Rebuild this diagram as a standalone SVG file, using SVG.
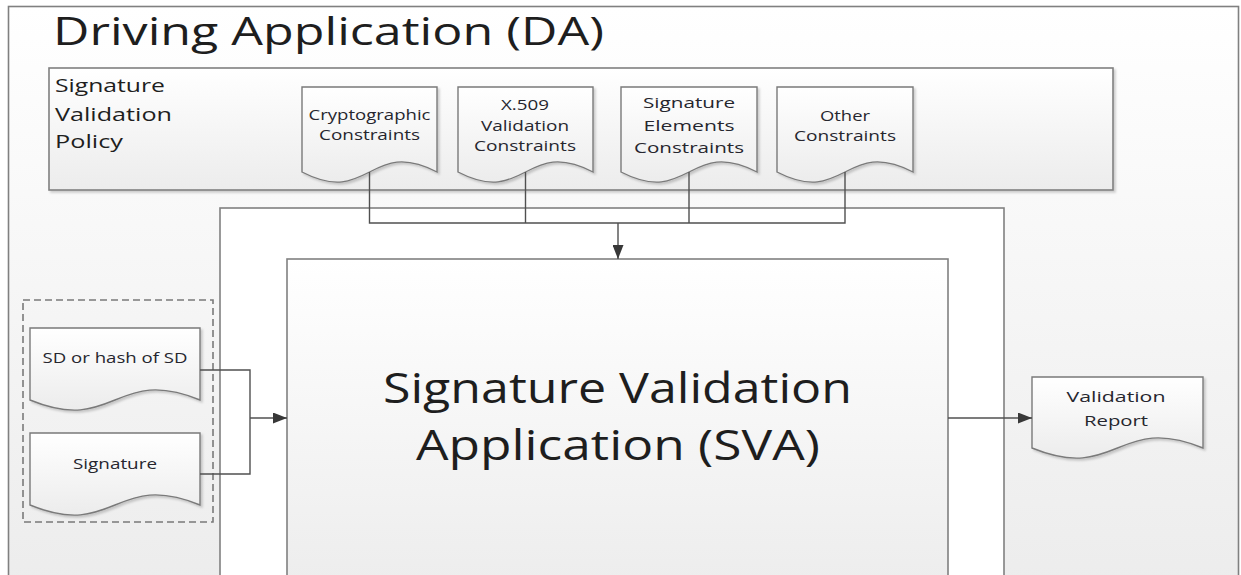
<svg xmlns="http://www.w3.org/2000/svg" width="1241" height="575" viewBox="0 0 1241 575">
  <defs>
    <linearGradient id="gBg" x1="0" y1="0" x2="0" y2="1">
      <stop offset="0" stop-color="#ffffff"/>
      <stop offset="1" stop-color="#ececec"/>
    </linearGradient>
    <linearGradient id="gBox" x1="0" y1="0" x2="0" y2="1">
      <stop offset="0" stop-color="#ffffff"/>
      <stop offset="1" stop-color="#ececec"/>
    </linearGradient>
    <filter id="shadow" x="-5%" y="-5%" width="115%" height="120%">
      <feDropShadow dx="2" dy="2" stdDeviation="1.2" flood-color="#000" flood-opacity="0.18"/>
    </filter>
    <marker id="arrow" viewBox="0 0 14 11" refX="14" refY="5.5" markerWidth="14" markerHeight="11" markerUnits="userSpaceOnUse" orient="auto">
      <path d="M0,0 L14,5.5 L0,11 z" fill="#383838"/>
    </marker>
    <style>
      .frame { stroke: #808080; stroke-width: 1.6; }
      .doc { fill: url(#gBox); stroke: #7a7a7a; stroke-width: 1.4; filter: url(#shadow); }
      .conn { fill: none; stroke: #505050; stroke-width: 1.4; }
      .t { font-family: "Open Sans", "Noto Sans", sans-serif; fill: #1e1e1e; }
      .small { font-size: 14px; fill: #26262e; }
    </style>
  </defs>

  <rect width="1241" height="575" fill="#ffffff"/>

  <g id="driving-application">
    <rect x="8.5" y="6.5" width="1230" height="590" fill="url(#gBg)" class="frame"/>
    <text class="t" x="53" y="45" font-size="39" textLength="551" lengthAdjust="spacingAndGlyphs">Driving Application (DA)</text>
  </g>

  <g id="signature-validation-policy">
    <rect x="49" y="68" width="1064" height="122" fill="url(#gBox)" class="frame" filter="url(#shadow)"/>
    <text class="t" font-size="19" fill="#222222">
      <tspan x="55" y="92" textLength="110" lengthAdjust="spacingAndGlyphs">Signature</tspan>
      <tspan x="55" y="121" textLength="117" lengthAdjust="spacingAndGlyphs">Validation</tspan>
      <tspan x="55" y="148" textLength="68" lengthAdjust="spacingAndGlyphs">Policy</tspan>
    </text>
  </g>

  <g id="cryptographic-constraints">
    <path class="doc" d="M302,87 H437 V172 C369.5,137 369.5,207 302,172 Z"/>
    <text class="t small" x="369.5" y="120" text-anchor="middle" textLength="122" lengthAdjust="spacingAndGlyphs">Cryptographic</text>
    <text class="t small" x="369.5" y="140" text-anchor="middle" textLength="101" lengthAdjust="spacingAndGlyphs">Constraints</text>
  </g>

  <g id="x509-validation-constraints">
    <path class="doc" d="M458,87 H593 V172 C525.5,137 525.5,207 458,172 Z"/>
    <text class="t small" x="525" y="110" text-anchor="middle" textLength="48" lengthAdjust="spacingAndGlyphs">X.509</text>
    <text class="t small" x="525" y="131" text-anchor="middle" textLength="88" lengthAdjust="spacingAndGlyphs">Validation</text>
    <text class="t small" x="525" y="151" text-anchor="middle" textLength="102" lengthAdjust="spacingAndGlyphs">Constraints</text>
  </g>

  <g id="signature-elements-constraints">
    <path class="doc" d="M621,87 H757 V172 C689,137 689,207 621,172 Z"/>
    <text class="t small" x="689" y="108" text-anchor="middle" textLength="92" lengthAdjust="spacingAndGlyphs">Signature</text>
    <text class="t small" x="689" y="131" text-anchor="middle" textLength="91" lengthAdjust="spacingAndGlyphs">Elements</text>
    <text class="t small" x="689" y="153" text-anchor="middle" textLength="110" lengthAdjust="spacingAndGlyphs">Constraints</text>
  </g>

  <g id="other-constraints">
    <path class="doc" d="M777,87 H913 V172 C845,137 845,207 777,172 Z"/>
    <text class="t small" x="845" y="121" text-anchor="middle" textLength="50" lengthAdjust="spacingAndGlyphs">Other</text>
    <text class="t small" x="845" y="141" text-anchor="middle" textLength="102" lengthAdjust="spacingAndGlyphs">Constraints</text>
  </g>

  <g id="sva-frame">
    <rect x="220" y="208" width="784" height="400" fill="#ffffff" class="frame"/>
  </g>

  <g id="signature-validation-application">
    <rect x="287" y="259" width="661" height="340" fill="url(#gBox)" class="frame"/>
    <text class="t" x="383" y="403" font-size="42" textLength="469" lengthAdjust="spacingAndGlyphs">Signature Validation</text>
    <text class="t" x="416" y="460" font-size="42" textLength="404" lengthAdjust="spacingAndGlyphs">Application (SVA)</text>
  </g>

  <g id="inputs-group">
    <rect x="23" y="300" width="190" height="222" fill="none" stroke="#7a7a7a" stroke-width="1.6" stroke-dasharray="7,4"/>
  </g>

  <g id="sd-or-hash">
    <path class="doc" d="M30,328 H200 V400 C115,365 115,435 30,400 Z"/>
    <text class="t small" x="115" y="363" text-anchor="middle" textLength="145" lengthAdjust="spacingAndGlyphs">SD or hash of SD</text>
  </g>

  <g id="signature">
    <path class="doc" d="M30,433 H200 V505 C115,470 115,540 30,505 Z"/>
    <text class="t small" x="115" y="469" text-anchor="middle" textLength="84" lengthAdjust="spacingAndGlyphs">Signature</text>
  </g>

  <g id="validation-report">
    <path class="doc" d="M1032,377 H1203 V448 C1117.5,413 1117.5,483 1032,448 Z"/>
    <text class="t small" x="1116" y="402" text-anchor="middle" textLength="99" lengthAdjust="spacingAndGlyphs">Validation</text>
    <text class="t small" x="1116" y="426" text-anchor="middle" textLength="64" lengthAdjust="spacingAndGlyphs">Report</text>
  </g>

  <g id="connectors">
    <path class="conn" d="M369.5,172 V223 H845 V172"/>
    <path class="conn" d="M525.5,172 V223"/>
    <path class="conn" d="M689,172 V223"/>
    <path class="conn" d="M618,223 V259" stroke-width="2" marker-end="url(#arrow)"/>
    <path class="conn" d="M200,370 H250 V474 H200"/>
    <path class="conn" d="M250,418 H287" stroke-width="1.8" marker-end="url(#arrow)"/>
    <path class="conn" d="M948,418 H1032" marker-end="url(#arrow)"/>
  </g>
</svg>
